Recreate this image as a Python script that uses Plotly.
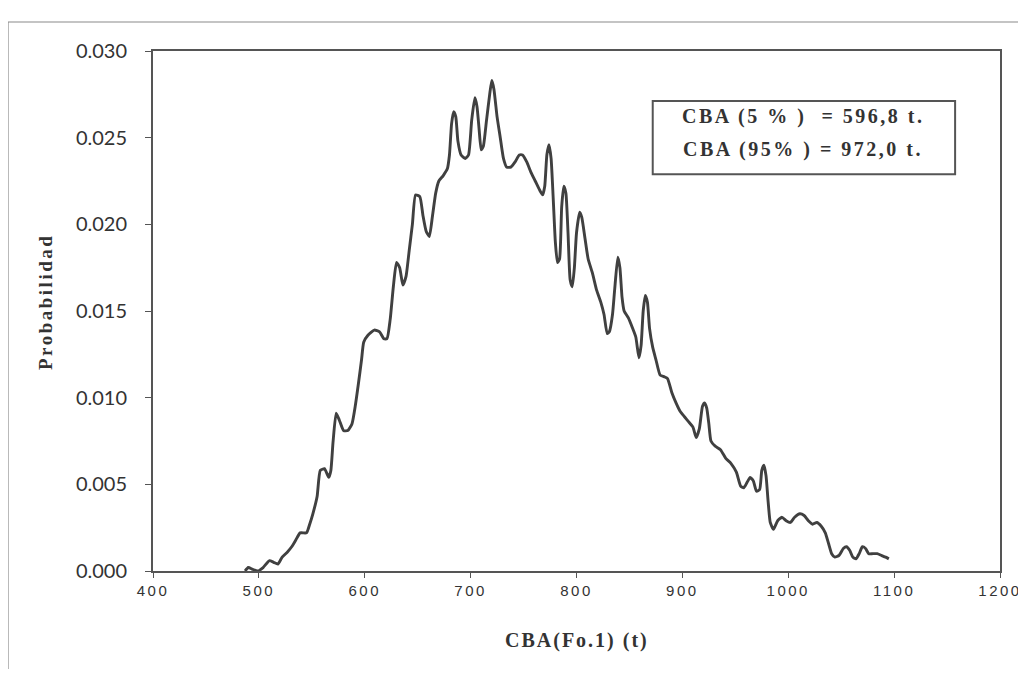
import plotly.graph_objects as go

cba_t = [487, 490, 494, 499, 504, 510, 514, 518, 522, 527, 531, 535, 539, 545, 548, 551, 555, 558, 562, 566,
         568, 570, 573, 576, 580, 584, 588, 591, 594, 597, 599, 603, 609, 614, 618, 621, 624, 627, 630, 633,
         636, 639, 642, 645, 648, 652, 655, 658, 661, 664, 667, 670, 674, 678, 680, 682, 684, 686, 688, 691,
         695, 698, 701, 704, 706, 708, 710, 712, 715, 718, 720, 722, 725, 728, 731, 734, 738, 742, 746, 749,
         753, 757, 761, 765, 768, 770, 772, 774, 776, 778, 780, 782, 784, 786, 788, 790, 792, 794, 796, 798,
         800, 803, 805, 808, 811, 815, 819, 823, 826, 829, 831, 834, 836, 839, 841, 843, 845, 849, 853, 856,
         859, 861, 863, 865, 867, 869, 872, 875, 879, 883, 886, 890, 894, 898, 902, 906, 910, 913, 916, 919,
         921, 923, 925, 927, 931, 936, 941, 946, 951, 955, 958, 961, 964, 967, 970, 973, 975, 977, 979, 981,
         983, 986, 990, 994, 998, 1002, 1006, 1011, 1015, 1019, 1023, 1027, 1031, 1035, 1038, 1041, 1044, 1048, 1052, 1055,
         1058, 1061, 1064, 1067, 1070, 1073, 1076, 1080, 1084, 1088, 1092, 1095]
probabilidad = [0.0000, 0.0002, 0.0001, 0.0000, 0.0002, 0.0006, 0.0005, 0.0004, 0.0008, 0.0011, 0.0014, 0.0018, 0.0022, 0.0022, 0.0027, 0.0033, 0.0043, 0.0058, 0.0059, 0.0054,
                0.0058, 0.0074, 0.0091, 0.0087, 0.0081, 0.0081, 0.0085, 0.0095, 0.0108, 0.0122, 0.0132, 0.0136, 0.0139, 0.0138, 0.0134, 0.0134, 0.0145, 0.0164, 0.0178, 0.0175,
                0.0165, 0.0170, 0.0185, 0.0200, 0.0217, 0.0216, 0.0205, 0.0196, 0.0193, 0.0205, 0.0218, 0.0225, 0.0228, 0.0232, 0.0240, 0.0258, 0.0265, 0.0262, 0.0248, 0.0240,
                0.0238, 0.0240, 0.0260, 0.0273, 0.0268, 0.0255, 0.0243, 0.0245, 0.0260, 0.0275, 0.0283, 0.0278, 0.0262, 0.0250, 0.0238, 0.0233, 0.0233, 0.0236, 0.0240, 0.0240,
                0.0236, 0.0230, 0.0225, 0.0220, 0.0217, 0.0222, 0.0240, 0.0246, 0.0238, 0.0215, 0.0190, 0.0178, 0.0180, 0.0210, 0.0222, 0.0218, 0.0195, 0.0168, 0.0164, 0.0175,
                0.0195, 0.0207, 0.0204, 0.0192, 0.0180, 0.0172, 0.0162, 0.0155, 0.0148, 0.0137, 0.0138, 0.0148, 0.0162, 0.0181, 0.0175, 0.0158, 0.0150, 0.0146, 0.0140, 0.0135,
                0.0123, 0.0130, 0.0150, 0.0159, 0.0155, 0.0140, 0.0129, 0.0122, 0.0113, 0.0112, 0.0111, 0.0103, 0.0097, 0.0092, 0.0089, 0.0086, 0.0083, 0.0077, 0.0082, 0.0095,
                0.0097, 0.0094, 0.0085, 0.0075, 0.0072, 0.0070, 0.0065, 0.0062, 0.0057, 0.0049, 0.0048, 0.0051, 0.0054, 0.0052, 0.0046, 0.0047, 0.0058, 0.0061, 0.0055, 0.0040,
                0.0028, 0.0024, 0.0029, 0.0031, 0.0029, 0.0028, 0.0031, 0.0033, 0.0032, 0.0029, 0.0027, 0.0028, 0.0026, 0.0022, 0.0016, 0.0010, 0.0008, 0.0009, 0.0013, 0.0014,
                0.0012, 0.0008, 0.0007, 0.0010, 0.0014, 0.0013, 0.0010, 0.0010, 0.0010, 0.0009, 0.0008, 0.0007]

x_ticks = [400, 500, 600, 700, 800, 900, 1000, 1100, 1200]
y_ticks = [0.000, 0.005, 0.010, 0.015, 0.020, 0.025, 0.030]
y_tick_labels = ["0.000", "0.005", "0.010", "0.015", "0.020", "0.025", "0.030"]
box_lines = ["CBA (5 % )  = 596,8 t.", "CBA (95% ) = 972,0 t."]


def spaced(s, px):
    return '<span style="letter-spacing:%spx">%s</span>' % (px, s)


fig = go.Figure()
fig.add_trace(go.Scatter(x=cba_t, y=probabilidad, mode="lines",
                         line=dict(color="#404040", width=2.9, shape="spline", smoothing=0.5),
                         hoverinfo="x+y", showlegend=False))

axis_col = "#555555"
W, H = 1016, 661
L, T, PW, PH = 145, 43, 847, 520
fig.update_layout(
    width=W, height=H,
    margin=dict(l=L, r=W - L - PW, t=T, b=H - T - PH, autoexpand=False),
    paper_bgcolor="white", plot_bgcolor="white",
    showlegend=False,
    xaxis=dict(range=[400, 1200], tickvals=x_ticks, ticktext=[spaced(str(v), 2.5) for v in x_ticks],
               showgrid=False, zeroline=False, showline=True, mirror=True,
               linecolor=axis_col, linewidth=2, ticks="outside", ticklen=5, tickcolor=axis_col,
               ticklabeloverflow="allow", automargin=False,
               tickfont=dict(family="Liberation Sans", size=15, color="#333333")),
    yaxis=dict(range=[0, 0.030], tickvals=y_ticks, ticktext=y_tick_labels,
               showgrid=False, zeroline=False, showline=True, mirror=True,
               linecolor=axis_col, linewidth=2, ticks="outside", ticklen=6, tickcolor=axis_col,
               ticklabelstandoff=14, automargin=False,
               tickfont=dict(family="Lato", size=20, color="#333333")),
)

# outer frame
fig.add_shape(type="rect", xref="paper", yref="paper", x0=-0.1712, x1=1.05, y0=-0.35, y1=1.0558,
              line=dict(color="#8a8a8a", width=1.2), fillcolor="rgba(0,0,0,0)", layer="below")

# annotation box
fig.add_shape(type="rect", xref="paper", yref="paper", x0=0.590, x1=0.947, y0=0.763, y1=0.904,
              line=dict(color="#555555", width=2), fillcolor="white")
for i, ypx in enumerate([116, 149]):
    fig.add_annotation(xref="paper", yref="paper", x=0.768, y=(571 - ypx) / 520, xanchor="center", yanchor="middle",
                       text="<b>" + spaced(box_lines[i], 2.5) + "</b>",
                       showarrow=False, font=dict(family="Liberation Serif", size=20, color="#333333"))

# axis titles
fig.add_annotation(xref="paper", yref="paper", x=0.5006, y=(571 - 640) / 520, xanchor="center", yanchor="middle",
                   text="<b>" + spaced("CBA(Fo.1) (t)", 2) + "</b>",
                   showarrow=False, font=dict(family="Liberation Serif", size=20, color="#333333"))
fig.add_annotation(xref="paper", yref="paper", x=(45 - 153) / 847, y=(571 - 372) / 520, xanchor="center",
                   yanchor="bottom", text="<b>" + spaced("Probabilidad", 2.5) + "</b>", textangle=-90,
                   showarrow=False, font=dict(family="Liberation Serif", size=19, color="#333333"))

fig.write_html("out.html")
